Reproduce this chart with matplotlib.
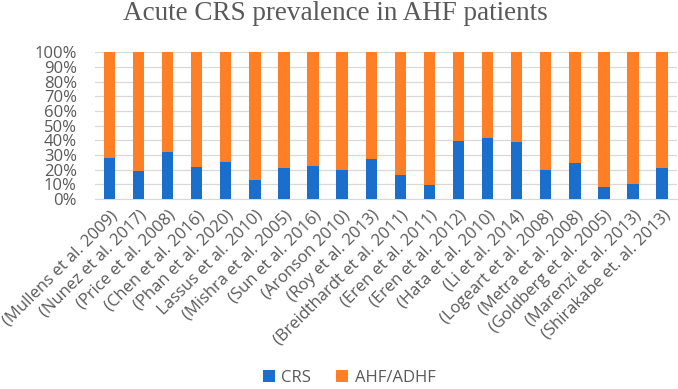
import matplotlib.pyplot as plt
from matplotlib.ticker import PercentFormatter
import numpy as np

# studies (x tick labels) as printed in the figure
studies = ["(Mullens et al. 2009)", "(Nunez et al. 2017)", "(Price et al. 2008)",
           "(Chen et al. 2016)", "(Phan et al. 2020)", "Lassus et al. 2010)",
           "(Mishra et al. 2005)", "(Sun et al. 2016)", "(Aronson 2010)",
           "(Roy et al. 2013)", "(Breidthardt et al. 2011)", "(Eren et al. 2011)",
           "(Eren et al. 2012)", "(Hata et al. 2010)", "(Li et al. 2014)",
           "(Logeart et al. 2008)", "(Metra et al. 2008)", "(Goldberg et al. 2005)",
           "(Marenzi et al. 2013)", "(Shirakabe et. al. 2013)"]

# CRS share in percent
crs = [28.1, 19.2, 32.1, 22.2, 25.3, 13.1, 21.5, 22.4, 20.1, 27.6,
       16.5, 9.5, 39.6, 41.9, 38.7, 20.1, 24.7, 8.4, 10.6, 21.3]
ahf = [100 - v for v in crs]

blue = '#1a6fcc'
orange = '#ff7f27'
grey = '#595959'

plt.rcParams['font.family'] = ['Open Sans', 'DejaVu Sans']

fig = plt.figure(figsize=(6.78, 3.89), dpi=100)
ax = fig.add_axes([0.140, 0.488, 0.858, 0.378])

x = np.arange(len(studies))
ax.bar(x, crs, width=0.39, color=blue, label='CRS', zorder=3)
ax.bar(x, ahf, width=0.39, bottom=crs, color=orange, label='AHF/ADHF', zorder=3)

ax.set_xlim(-0.5, len(studies) - 0.5)
ax.set_ylim(0, 100)
ax.set_yticks(range(0, 101, 10))
ax.yaxis.set_major_formatter(PercentFormatter(decimals=0))
ax.grid(axis='y', color='#d9d9d9', linewidth=0.9, zorder=0)
for s in ['top', 'right', 'left']:
    ax.spines[s].set_visible(False)
ax.spines['bottom'].set_color('#d9d9d9')
ax.tick_params(axis='both', length=0, colors=grey, labelsize=12)
ax.tick_params(axis='y', pad=13)
ax.tick_params(axis='x', pad=6)

ax.set_xticks(x)
ax.set_xticklabels(studies, rotation=45, ha='right', rotation_mode='anchor')

fig.text(0.495, 0.965, 'Acute CRS prevalence in AHF patients', ha='center', va='center',
         fontsize=19.5, color=grey, family='Liberation Serif')

fig.legend(loc='center', bbox_to_anchor=(0.515, 0.028), ncol=2, frameon=False,
           fontsize=12, labelcolor=grey, handlelength=0.7, handleheight=0.7,
           handletextpad=0.4, columnspacing=1.5)

fig.savefig('out.png', dpi=100)
